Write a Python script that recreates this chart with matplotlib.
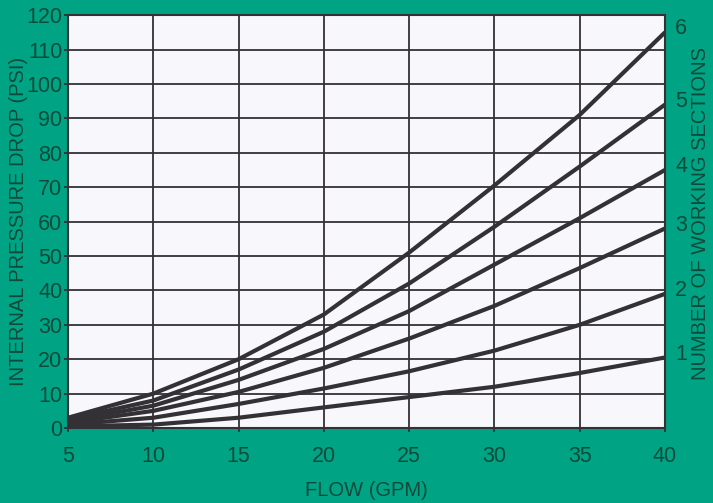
import numpy as np
import matplotlib.pyplot as plt

# Flow (GPM) read at each grid line
flow = [5, 10, 15, 20, 25, 30, 35, 40]

# Pressure drop (PSI) per number of working sections
sec1 = [0.5, 1, 3, 6, 9, 12, 16, 20.5]
sec2 = [1, 3, 7, 11.5, 16.5, 22.5, 30, 39]
sec3 = [1.5, 5, 10.5, 17.5, 26, 35.5, 46.5, 58]
sec4 = [2, 6.5, 14, 23, 34, 47.5, 61, 75]
sec5 = [2.5, 8, 17, 28, 42, 58.5, 76, 94]
sec6 = [3, 10, 20, 33, 51, 70.5, 91, 115]

series = [sec1, sec2, sec3, sec4, sec5, sec6]
section_labels = ["1", "2", "3", "4", "5", "6"]

x_ticks = [5, 10, 15, 20, 25, 30, 35, 40]
y_ticks = list(range(0, 121, 10))

green = "#00a383"
text_col = "#0c4b3b"
ink = "#333136"

plt.rcParams['font.family'] = ['Liberation Sans', 'DejaVu Sans']

fig = plt.figure(figsize=(7.13, 5.03), dpi=100, facecolor=green)
ax = fig.add_axes([0.0954, 0.149, 0.8373, 0.821])
ax.set_facecolor("#f8f8fc")

for s in series:
    ax.plot(flow, s, color=ink, linewidth=3.0, solid_joinstyle="round",
            solid_capstyle="butt", zorder=3)

ax.set_xlim(5, 40)
ax.set_ylim(0, 120)
ax.set_xticks(x_ticks)
ax.set_yticks(y_ticks)
ax.grid(True, color=ink, linewidth=1.3)
ax.set_axisbelow(True)

for sp in ax.spines.values():
    sp.set_color(ink)
    sp.set_linewidth(1.5)

ax.tick_params(axis="both", colors=ink, length=3, width=1.3,
               labelcolor=text_col, labelsize=15.5, pad=1)
ax.tick_params(axis="x", pad=10)

ax.set_xlabel("FLOW (GPM)", color=text_col, fontsize=14.5, labelpad=10)
ax.set_ylabel("INTERNAL PRESSURE DROP (PSI)", color=text_col, fontsize=14.5, labelpad=-1)

# section numbers on the right, at the end of each curve
for s, lab in zip(series, section_labels):
    ax.text(40.6, s[-1] + 1, lab, color=text_col, fontsize=15.5,
            ha="left", va="center", clip_on=False)

fig.text(0.982, 0.575, "NUMBER OF WORKING SECTIONS", color=text_col,
         fontsize=14.5, rotation=90, ha="center", va="center")

fig.savefig("out.png", dpi=100, facecolor=green)
